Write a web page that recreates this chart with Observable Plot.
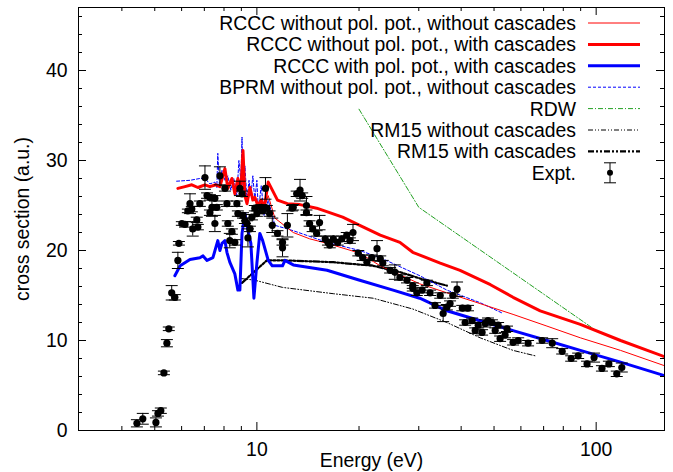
<!DOCTYPE html>
<html><head><meta charset="utf-8">
<script src="https://cdn.jsdelivr.net/npm/d3@7"></script>
<script src="https://cdn.jsdelivr.net/npm/@observablehq/plot@0.6"></script>
<style>
body{margin:0;background:#fff;}
#wrap{position:relative;width:673px;height:472px;}
#legend{position:absolute;left:0;top:0;pointer-events:none;}
</style></head><body><div id="wrap"></div>
<script>
// ---------------- data ----------------
const exptE = [4.43,4.61,5.04,5.11,5.21,5.32,5.43,5.50,5.61,5.73,
 5.89,5.85,6.01,6.14,6.26,6.35,6.43,6.47,6.65,6.70,6.79,7.03,7.13,7.27,7.27,7.37,7.52,7.52,7.62,7.78,8.05,8.16,8.21,8.32,8.44,8.61,8.73,8.79,8.91,9.04,9.10,9.22,9.35,9.41,9.54,9.67,9.86,10.0,10.3,10.6,10.7,
 10.4,10.9,11.1,11.5,11.9,11.9,12.3,12.7,12.8,13.1,13.4,13.6,14.0,14.0,14.3,14.6,15.0,15.3,15.9,16.2,16.4,16.8,17.3,17.8,18.4,18.8,19.2,19.9,20.5,21.1,21.8,22.6,23.1,23.5,24.7,25.5,26.4,27.7,28.8,
 28.8,29.6,30.7,31.7,32.4,33.5,34.7,35.4,36.3,37.1,37.8,38.9,40.3,41.9,41.1,43.1,44.0,44.9,46.1,47.1,48.0,49.3,50.4,51.4,52.1,53.9,54.6,56.9,58.9,63.0,
 69.3,74.2,79.4,84.4,88.5,94.0,98.6,104,109,115,119];
const exptS = [0.8,1.3,0.9,1.9,2.2,6.4,9.7,11.3,15.3,14.8,
 20.8,18.9,23.0,22.9,24.4,25.2,24.6,22.4,23.4,22.6,25.2,28.1,26.1,25.9,24.2,24.8,23.0,25.8,24.8,28.3,26.9,25.2,23.0,21.1,22.1,20.9,25.2,24.1,26.9,26.3,23.9,23.3,23.0,21.4,22.4,23.7,24.7,24.1,24.8,26.9,24.7,
 24.4,24.1,22.8,21.9,20.9,20.3,22.8,24.7,24.8,26.3,26.7,26.1,25.0,24.2,23.0,22.4,21.9,23.1,21.3,20.9,20.6,21.3,20.9,21.3,21.7,21.1,22.0,19.7,19.2,18.7,19.2,20.2,19.1,18.6,17.8,17.6,17.0,16.7,16.1,
 15.8,15.3,15.6,16.4,15.3,13.9,15.0,13.0,13.7,14.1,15.0,15.7,13.6,13.6,12.0,12.2,11.1,11.7,10.9,11.9,12.2,12.0,11.1,11.7,10.2,10.6,11.3,9.8,10.0,9.7,
 10.0,9.7,8.8,8.0,8.3,7.4,8.1,6.9,7.4,6.3,7.0];
const exptErr = [0.4,0.6,0.5,0.3,0.3,0.2,0.4,0.2,0.8,0.3,
 0.2,0.9,0.2,0.3,0.2,1.1,0.3,0.8,0.3,0.3,0.3,1.3,0.3,0.3,0.3,1.0,0.9,0.3,0.3,1.0,0.3,0.3,0.3,0.8,0.3,0.3,0.3,0.3,0.8,0.3,0.3,0.3,0.3,1.0,0.3,0.3,0.3,0.3,0.3,1.2,0.3,
 0.3,0.3,0.8,0.3,0.3,1.0,1.3,0.3,0.3,0.3,1.2,0.3,1.0,0.3,0.3,0.3,0.3,0.8,0.3,0.3,0.3,0.3,0.3,0.3,0.3,0.3,0.9,0.3,0.3,0.3,0.3,0.9,0.3,0.3,0.3,0.8,0.3,0.3,0.3,
 0.3,0.3,0.3,0.3,0.3,0.3,0.3,0.9,0.3,0.3,0.3,0.8,0.3,0.3,0.3,0.3,0.3,0.3,0.3,0.4,0.3,0.3,0.3,0.3,0.3,0.3,0.3,0.3,0.3,0.3,
 0.3,0.5,0.3,0.3,0.3,0.3,0.5,0.3,0.3,0.3,0.5];

// RCCC without pol. pot., with cascades
const rcccCascE = [5.85,6.14,6.43,6.70,7.03,7.27,7.57,7.78,8.05,8.21,8.44,8.61,8.79,8.97,9.10,9.22,9.35,9.54,9.73,9.86,10.07,10.3,10.5,10.8,11.5,12.3,13.4,15.0,17.9,20.1,23.1,26.4,28.8,34.7,39.7,48.8,56.9,68.4,89.8,118,159];
const rcccCascS = [26.9,27.1,27.3,27.0,27.3,27.1,27.3,27.1,29.1,26.9,28.0,26.3,28.0,26.7,31.1,26.1,25.2,27.0,25.6,25.9,25.0,25.6,24.7,27.6,25.6,25.2,25.1,24.7,23.7,22.8,21.7,20.9,19.8,18.6,17.8,16.2,14.8,13.3,11.8,10.0,8.2];
// RCCC without pol. pot., without cascades
const rcccE = [5.85,6.14,6.43,6.70,7.03,7.27,7.57,7.78,8.05,8.21,8.44,8.61,8.79,8.97,9.10,9.22,9.35,9.54,9.73,9.86,10.07,10.3,10.5,10.8,11.3,12.8,14.3,16.1,20.1,23.1,30.2,36.3,45.5,56.9,71.6,89.8,118,159];
const rcccS = [26.9,27.1,27.3,27.0,27.3,27.1,27.3,27.1,29.1,26.9,28.0,26.3,28.0,26.7,31.1,26.1,25.2,27.0,25.6,25.9,25.0,25.6,24.7,26.1,23.6,22.0,21.3,20.8,19.7,18.3,16.3,15.3,14.1,12.9,11.6,10.3,8.9,7.2];
// RCCC with pol. pot., with cascades
const rcccPolE = [5.73,5.94,6.35,6.79,6.94,7.13,7.42,7.67,7.78,7.89,8.05,8.16,8.32,8.61,8.79,8.91,9.04,9.22,9.41,9.60,9.80,10.0,10.2,10.4,10.8,11.1,11.9,12.1,12.8,16.1,20.1,25.2,30.2,36.3,45.5,56.9,71.6,89.8,118,159];
const rcccPolS = [17.2,18.3,19.0,19.2,19.4,18.9,19.2,21.1,20.0,20.8,21.1,19.8,18.7,17.4,15.6,15.6,21.9,24.1,22.2,20.8,14.7,18.6,21.9,21.1,18.9,18.3,18.3,18.9,18.4,17.8,16.7,15.6,14.7,13.3,12.2,11.1,10.0,8.9,7.6,6.1];
// BPRM without pol. pot., without cascades
const bprmE = [5.80,6.35,6.79,7.03,7.27,7.52,7.62,7.67,7.75,7.89,8.05,8.21,8.38,8.55,8.73,8.85,8.97,9.04,9.10,9.22,9.35,9.48,9.60,9.73,9.86,10.0,10.1,10.3,10.5,10.8,11.3,12.8,16.1,20.1,23.1,30.2,36.3,45.5,53.2];
const bprmS = [27.7,27.8,28.0,28.0,27.4,27.6,27.0,30.8,27.3,28.9,27.8,28.3,26.7,28.0,26.1,30.0,27.8,32.6,26.7,29.4,25.6,27.8,26.1,28.3,25.6,27.8,24.4,27.2,23.9,25.6,22.8,22.2,20.9,20.0,19.2,17.2,15.6,14.2,13.0];
// RDW
const rdwE = [20, 30, 100];
const rdwS = [35.7, 24.8, 11.1];
// RM15 without cascades
const rm15E = [8.91,9.86,11.9,16.8,22.0,28.8,36.3,45.5,56.9,66.1];
const rm15S = [16.9,16.7,15.9,15.2,14.7,13.5,12.0,10.3,8.9,8.3];
// RM15 with cascades
const rm15cE = [9.04,9.93,10.7,12.1,16.8,22.0,26.4,30.2,36.3];
const rm15cS = [16.4,17.8,18.9,18.9,18.7,18.3,17.6,16.9,16.1];

const xLabelTicks = [10, 100];
const xMinorTicks = [4,5,6,7,8,9,20,30,40,50,60,70,80,90];
const yLabelTicks = [0,10,20,30,40];
const yMinorTicks = [2,4,6,8,12,14,16,18,22,24,26,28,32,34,36,38,42,44,46];
const legendLabels = ["RCCC without pol. pot., without cascades","RCCC without pol. pot., with cascades","RCCC with pol. pot., with cascades","BPRM without pol. pot., without cascades","RDW","RM15 without cascades","RM15 with cascades","Expt."];
const xTitle = "Energy (eV)";
const yTitle = "cross section (a.u.)";

// ---------------- drawing ----------------
const FONT = '"Liberation Sans", Arial, Helvetica, sans-serif';
const FS = 19.4;
const W=673,H=472,ML=78,MR=9,MT=7,MB=42;
const PW=W-ML-MR, PH=H-MT-MB;
const rows=(E,S)=>E.map((e,i)=>({e, s:S[i]}));
const expt = exptE.map((e,i)=>({e, s:exptS[i], err:exptErr[i]}));

const styles = [
  {stroke:"#ff0000", strokeWidth:1},
  {stroke:"#ff0000", strokeWidth:3},
  {stroke:"#0000ff", strokeWidth:3},
  {stroke:"#0000ff", strokeWidth:1, strokeDasharray:"3,2"},
  {stroke:"#22a022", strokeWidth:1, strokeDasharray:"5,2,1,2"},
  {stroke:"#000000", strokeWidth:1, strokeDasharray:"5,2,1,2,1,2"},
  {stroke:"#000000", strokeWidth:2.2, strokeDasharray:"6,2,2,2,2,2"}
];
const series = [rows(rcccE,rcccS), rows(rcccCascE,rcccCascS), rows(rcccPolE,rcccPolS), rows(bprmE,bprmS), rows(rdwE,rdwS), rows(rm15E,rm15S), rows(rm15cE,rm15cS)];
const capSymbol = {draw(ctx){ ctx.moveTo(-6,0); ctx.lineTo(6,0); }};

const lineMarks = [];
[4,5,6,3,0,1,2].forEach(i => lineMarks.push(Plot.line(series[i], {x:"e", y:"s", clip:true, ...styles[i]})));

const plot = Plot.plot({
  width: W, height: H, marginLeft: ML, marginRight: MR, marginTop: MT, marginBottom: MB,
  style: {fontFamily: FONT, fontSize: FS + "px", color: "#000", background: "#fff"},
  x: {type: "log", domain: [2.98, 159], label: null},
  y: {domain: [0, 47], label: null},
  marks: [
    ...lineMarks,
    Plot.ruleX(expt, {x:"e", y1: d=>d.s-d.err, y2: d=>d.s+d.err, stroke:"#000", strokeWidth:1}),
    Plot.dot(expt, {x:"e", y: d=>d.s+d.err, symbol: capSymbol, fill:"none", stroke:"#000", strokeWidth:1}),
    Plot.dot(expt, {x:"e", y: d=>d.s-d.err, symbol: capSymbol, fill:"none", stroke:"#000", strokeWidth:1}),
    Plot.dot(expt, {x:"e", y:"s", r:3.6, fill:"#000", stroke:"none"}),
    // inward ticks on all four sides
    Plot.tickX(xLabelTicks, {x:d=>d, insetTop: PH-8, stroke:"#000"}),
    Plot.tickX(xLabelTicks, {x:d=>d, insetBottom: PH-8, stroke:"#000"}),
    Plot.tickX(xMinorTicks, {x:d=>d, insetTop: PH-4, stroke:"#000"}),
    Plot.tickX(xMinorTicks, {x:d=>d, insetBottom: PH-4, stroke:"#000"}),
    Plot.tickY(yLabelTicks, {y:d=>d, insetRight: PW-8, stroke:"#000"}),
    Plot.tickY(yLabelTicks, {y:d=>d, insetLeft: PW-8, stroke:"#000"}),
    Plot.tickY(yMinorTicks, {y:d=>d, insetRight: PW-4, stroke:"#000"}),
    Plot.tickY(yMinorTicks, {y:d=>d, insetLeft: PW-4, stroke:"#000"}),
    Plot.frame({stroke:"#000", strokeWidth:1}),
    Plot.axisX({ticks: xLabelTicks, tickSize: 0, tickPadding: 12, tickFormat: d=>String(d), label: null, fontSize: FS}),
    Plot.axisY({ticks: yLabelTicks, tickSize: 0, tickPadding: 11, label: null, fontSize: FS}),
    Plot.text([xTitle], {text:d=>d, frameAnchor:"bottom", dy: 30, lineAnchor:"middle", fontSize: FS, fill:"#000"}),
    Plot.text([yTitle], {text:d=>d, frameAnchor:"left", dx: -56, rotate: -90, textAnchor:"middle", lineAnchor:"middle", fontSize: FS, fill:"#000"})
  ]
});
const wrap = document.getElementById("wrap");
wrap.appendChild(plot);

// legend overlay (inside plot frame, top right)
const lg = d3.select(wrap).append("svg").attr("id","legend").attr("width",W).attr("height",200)
  .style("font-family", FONT).style("font-size", FS + "px");
const rowY = i => 23 + 21.4*i;
legendLabels.forEach((lab,i) => {
  lg.append("text").attr("x",576).attr("y",rowY(i)).attr("text-anchor","end")
    .attr("dominant-baseline","central").attr("fill","#000").text(lab);
  if (i < styles.length) {
    const s = styles[i];
    lg.append("line").attr("x1",588).attr("x2",640).attr("y1",rowY(i)).attr("y2",rowY(i))
      .attr("stroke",s.stroke).attr("stroke-width",s.strokeWidth)
      .attr("stroke-dasharray",s.strokeDasharray||null);
  } else {
    const cy = rowY(i);
    lg.append("line").attr("x1",610).attr("x2",610).attr("y1",cy-10).attr("y2",cy+10).attr("stroke","#000");
    lg.append("line").attr("x1",604).attr("x2",616).attr("y1",cy-10).attr("y2",cy-10).attr("stroke","#000");
    lg.append("line").attr("x1",604).attr("x2",616).attr("y1",cy+10).attr("y2",cy+10).attr("stroke","#000");
    lg.append("circle").attr("cx",610).attr("cy",cy).attr("r",3).attr("fill","#000");
  }
});
</script></body></html>
